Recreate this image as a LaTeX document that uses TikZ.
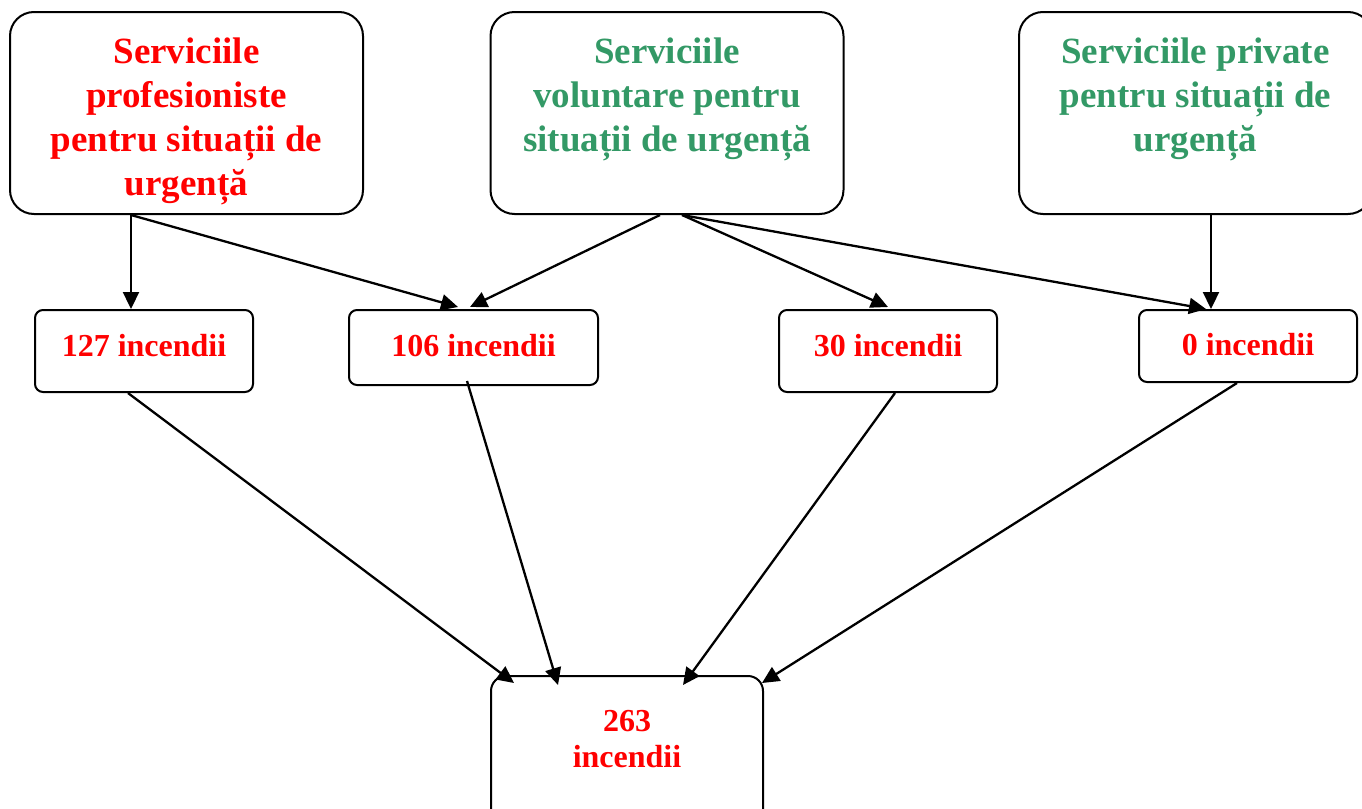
\documentclass[tikz,border=0pt]{standalone}
\usepackage{fontspec}
\setmainfont{Liberation Serif}
\usetikzlibrary{arrows.meta}
\tikzset{topbox/.style={draw, line width=1pt, rounded corners=12pt, inner sep=0pt, minimum width=176.5pt, minimum height=101pt}}
\tikzset{midbox/.style={draw, line width=1pt, rounded corners=4pt, inner sep=0pt, minimum width=109pt}}
\tikzset{sumbox/.style={draw, line width=1pt, rounded corners=7.5pt, inner sep=0pt, minimum width=136pt, minimum height=74.5pt}}
\tikzset{headtxt/.style={font=\bfseries\fontsize{18.5}{22}\selectfont, align=center, inner sep=0pt}}
\tikzset{numtxt/.style={font=\bfseries\fontsize{16}{18}\selectfont, align=center, inner sep=0pt, text=fire}}
\tikzset{arr/.style={line width=1.15pt, -{Triangle[length=8.5pt,width=8pt]}}}
\definecolor{fire}{HTML}{FF0000}
\definecolor{leaf}{HTML}{339966}

\begin{document}
\begin{tikzpicture}[x=0.5pt,y=-0.5pt]
        \useasboundingbox (0,0) rectangle (1362,809);
        \clip (0,0) rectangle (1362,809);
          \node[topbox] (prof) at (186.5,113) {};
          \node[headtxt, text=fire] at (prof.north) [below=13pt] {Serviciile\\profesioniste\\pentru situații de\\urgență};
          \node[topbox] (volu) at (667,113) {};
          \node[headtxt, text=leaf] at (volu.north) [below=13pt] {Serviciile\\voluntare pentru\\situații de urgență};
          \node[topbox] (priv) at (1195.5,113) {};
          \node[headtxt, text=leaf] at (priv.north) [below=13pt] {Serviciile private\\pentru situații de\\urgență};
          \node[midbox, minimum height=41pt] (n127) at (144,351) {};
          \node[numtxt] at (n127.north) [below=12.5pt] {127 incendii};
          \node[midbox, minimum width=124.5pt, minimum height=37.5pt] (n106) at (473.5,347.5) {};
          \node[numtxt] at (n106.north) [below=12.5pt] {106 incendii};
          \node[midbox, minimum height=41pt] (n30) at (888,351) {};
          \node[numtxt] at (n30.north) [below=12.5pt] {30 incendii};
          \node[midbox, minimum height=36pt] (n0) at (1248,346) {};
          \node[numtxt] at (n0.north) [below=12pt] {0 incendii};
          \node[sumbox] (sum) at (627,750.5) {};
          \node[numtxt] at (sum.north) [below=17.5pt] {263\\incendii};
          \draw[arr] ([xshift=-27.75pt]prof.south) -- ([xshift=-6.5pt]n127.north);
          \draw[arr] ([xshift=-27.75pt]prof.south) -- ([xshift=-7.75pt,yshift=1pt]n106.north);
          \draw[arr] ([xshift=-3.5pt]volu.south) -- ([xshift=-1.75pt,yshift=1pt]n106.north);
          \draw[arr] ([xshift=7.5pt]volu.south) -- ([yshift=1pt]n30.north);
          \draw[arr] ([xshift=7.5pt]volu.south) -- ([xshift=-21pt]n0.north);
          \draw[arr] ([xshift=7.75pt]priv.south) -- ([xshift=-18.5pt]n0.north);
          \draw[arr] ([xshift=-8pt]n127.south) -- ([xshift=-56.5pt,yshift=-4pt]sum.north);
          \draw[arr] ([xshift=-3.25pt,yshift=2.5pt]n106.south) -- ([xshift=-34.5pt,yshift=-5pt]sum.north);
          \draw[arr] ([xshift=3.5pt]n30.south) -- ([xshift=28pt,yshift=-5pt]sum.north);
          \draw[arr] ([xshift=-5.5pt]n0.south) -- ([xshift=67.5pt,yshift=-4pt]sum.north);
\end{tikzpicture}
\end{document}
